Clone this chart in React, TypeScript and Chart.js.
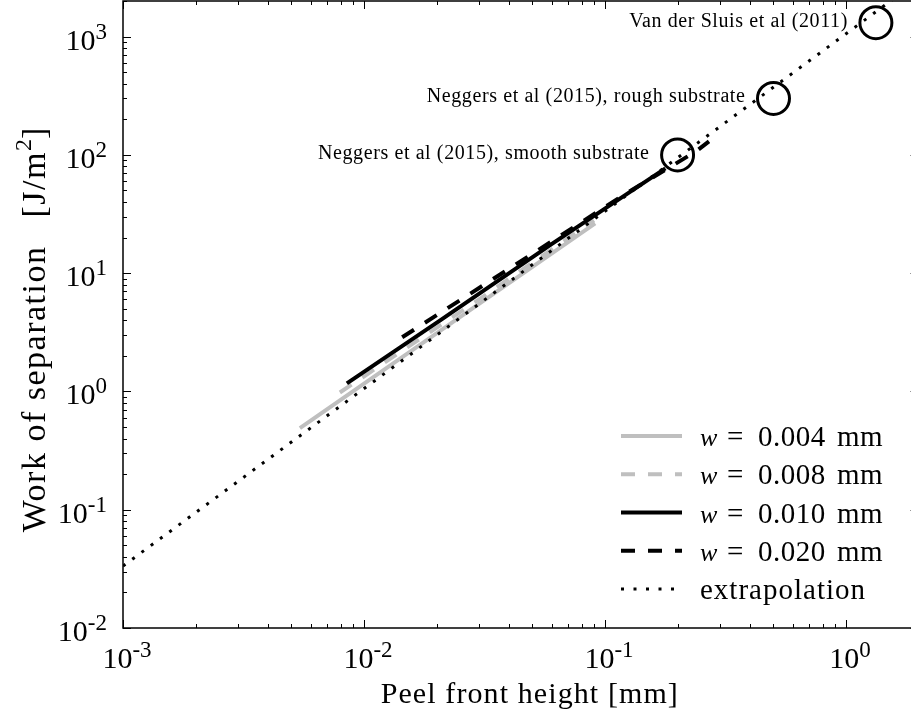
import { useEffect, useRef } from 'react';
import { Chart, registerables } from 'chart.js';

Chart.register(...registerables);

// ---------------- data ----------------
const extrapX = [0.001, 2];
const extrapY = [0.0334, 2990];

const w004X = [0.00542, 0.025, 0.091];
const w004Y = [0.489, 4.25, 26.4];

const w008X = [0.00794, 0.03, 0.09];
const w008Y = [0.98, 6.0, 28];

const w010X = [0.00849, 0.0207, 0.06, 0.178];
const w010Y = [1.17, 3.99, 17.6, 77];

const w020X = [0.0144, 0.04, 0.12, 0.24, 0.27];
const w020Y = [2.87, 10.9, 46, 108, 130];

const circleX = [0.2, 0.5, 1.33];
const circleY = [100, 300, 1310];
const circleLabels = [
  'Neggers et al (2015), smooth substrate',
  'Neggers et al (2015), rough substrate',
  'Van der Sluis et al (2011)',
];

const widthValues = ['0.004', '0.008', '0.010', '0.020'];
const extrapLabel = 'extrapolation';

const xMajorTicks = [0.001, 0.01, 0.1, 1];
const xMajorExp = ['-3', '-2', '-1', '0'];
const yMajorTicks = [0.01, 0.1, 1, 10, 100, 1000];
const yMajorExp = ['-2', '-1', '0', '1', '2', '3'];
const minorMultipliers = [2, 3, 4, 5, 6, 7, 8, 9];
const xDecades = [0.001, 0.01, 0.1, 1];
const yDecades = [0.01, 0.1, 1, 10, 100, 1000];

const xTitle = 'Peel front height [mm]';
const yTitleMain = 'Work of separation';
const yTitleUnit = '[J/m';
const yTitleSup = '2';
const yTitleEnd = ']';

const X_MIN = 0.001;
const X_MAX = 2;
const Y_MIN = 0.01;
const Y_MAX = 2000;

const GRAY = '#bfbfbf';
const BLACK = '#000000';
const FAMILY = '"Liberation Serif", "DejaVu Serif", serif';

const pts = (xs: number[], ys: number[]) => xs.map((x, i) => ({ x, y: ys[i] }));

type Run = { t: string; size: number; italic?: boolean; dy?: number; ls?: number; adv?: number };
function fontOf(r: Run) {
  return `${r.italic ? 'italic ' : ''}${r.size}px ${FAMILY}`;
}
function setRun(ctx: any, r: Run) {
  ctx.font = fontOf(r);
  ctx.letterSpacing = `${r.ls || 0}px`;
}
function drawRuns(ctx: CanvasRenderingContext2D, runs: Run[], x: number, y: number, align: 'left' | 'center' | 'right') {
  const widths = runs.map((r) => {
    setRun(ctx, r);
    return ctx.measureText(r.t).width + (r.adv || 0);
  });
  const total = widths.reduce((a, b) => a + b, 0);
  let cx = align === 'left' ? x : align === 'center' ? x - total / 2 : x - total;
  ctx.textAlign = 'left';
  ctx.textBaseline = 'alphabetic';
  runs.forEach((r, i) => {
    setRun(ctx, r);
    ctx.fillText(r.t, cx, y + (r.dy || 0));
    cx += widths[i];
  });
  (ctx as any).letterSpacing = '0px';
}

const legendStyles = [
  { color: GRAY, dash: [] as number[], width: 4 },
  { color: GRAY, dash: [14, 13], width: 4 },
  { color: BLACK, dash: [] as number[], width: 4 },
  { color: BLACK, dash: [14, 13], width: 4 },
  { color: BLACK, dash: [3, 9.5], width: 3 },
];

const decorPlugin = {
  id: 'decor',
  afterDraw(chart: any) {
    const ctx: CanvasRenderingContext2D = chart.ctx;
    const { left, right, top, bottom } = chart.chartArea;
    const xs = chart.scales.x;
    const ys = chart.scales.y;
    ctx.save();
    ctx.fillStyle = BLACK;
    ctx.strokeStyle = BLACK;

    // ticks (inward, all four sides)
    ctx.lineWidth = 1;
    const MAJ = 8;
    const MIN = 4;
    const tickLine = (x1: number, y1: number, x2: number, y2: number) => {
      ctx.beginPath();
      ctx.moveTo(x1, y1);
      ctx.lineTo(x2, y2);
      ctx.stroke();
    };
    xMajorTicks.forEach((v) => {
      const px = Math.round(xs.getPixelForValue(v)) + 0.5;
      tickLine(px, bottom, px, bottom - MAJ);
      tickLine(px, top, px, top + MAJ);
    });
    xDecades.forEach((d) => {
      minorMultipliers.forEach((m) => {
        const v = d * m;
        if (v > X_MAX) return;
        const px = Math.round(xs.getPixelForValue(v)) + 0.5;
        tickLine(px, bottom, px, bottom - MIN);
        tickLine(px, top, px, top + MIN);
      });
    });
    yMajorTicks.forEach((v) => {
      const py = Math.round(ys.getPixelForValue(v)) + 0.5;
      tickLine(left, py, left + MAJ, py);
      tickLine(right, py, right - MAJ, py);
    });
    yDecades.forEach((d) => {
      minorMultipliers.forEach((m) => {
        const v = d * m;
        if (v > Y_MAX) return;
        const py = Math.round(ys.getPixelForValue(v)) + 0.5;
        tickLine(left, py, left + MIN, py);
        tickLine(right, py, right - MIN, py);
      });
    });

    // frame
    ctx.lineWidth = 1.5;
    ctx.strokeRect(left, top, right - left, bottom - top);

    // tick labels
    const MAIN = 30;
    const SUP = 23;
    yMajorTicks.forEach((v, i) => {
      const py = ys.getPixelForValue(v);
      drawRuns(ctx, [{ t: '10', size: MAIN }, { t: yMajorExp[i], size: SUP, dy: -11 }], left - 16, py + 13, 'right');
    });
    xMajorTicks.forEach((v, i) => {
      const px = xs.getPixelForValue(v);
      drawRuns(ctx, [{ t: '10', size: MAIN }, { t: xMajorExp[i], size: SUP, dy: -11 }], px + 4, bottom + 40, 'center');
    });

    // axis titles
    drawRuns(ctx, [{ t: xTitle, size: 30, ls: 1.1 }], (left + right) / 2 + 9, 703, 'center');
    ctx.save();
    ctx.translate(45, 330);
    ctx.rotate(-Math.PI / 2);
    drawRuns(ctx, [
      { t: yTitleMain, size: 34, ls: 1.5, adv: 28 },
      { t: yTitleUnit, size: 34, ls: 1.5 },
      { t: yTitleSup, size: 24, dy: -14 },
      { t: yTitleEnd, size: 34 },
    ], 0, 0, 'center');
    ctx.restore();

    // annotations next to circles
    circleX.forEach((cxv, i) => {
      const px = xs.getPixelForValue(cxv);
      const py = ys.getPixelForValue(circleY[i]);
      drawRuns(ctx, [{ t: circleLabels[i], size: 20, ls: 0.6 }], px - 28, py + 4, 'right');
    });

    // legend
    const LX1 = 621;
    const LX2 = 682;
    const TX = 700;
    const ROW0 = 436;
    const STEP = 38.25;
    legendStyles.forEach((st, i) => {
      const ry = ROW0 + i * STEP;
      ctx.save();
      ctx.strokeStyle = st.color;
      ctx.lineWidth = st.width;
      ctx.setLineDash(st.dash);
      ctx.lineCap = 'butt';
      ctx.beginPath();
      ctx.moveTo(LX1, ry);
      ctx.lineTo(LX2, ry);
      ctx.stroke();
      ctx.restore();
      ctx.fillStyle = BLACK;
      if (i < widthValues.length) {
        drawRuns(ctx, [{ t: 'w', size: 26, italic: true }], TX, ry + 10, 'left');
        drawRuns(ctx, [{ t: '=', size: 29 }], TX + 27, ry + 10, 'left');
        drawRuns(ctx, [{ t: widthValues[i], size: 29, ls: 0.5 }], TX + 58, ry + 10, 'left');
        drawRuns(ctx, [{ t: 'mm', size: 29, ls: 0.5 }], TX + 137, ry + 10, 'left');
      } else {
        drawRuns(ctx, [{ t: extrapLabel, size: 29, ls: 1 }], TX, ry + 10, 'left');
      }
    });

    ctx.restore();
  },
};

export default function App() {
  const ref = useRef<HTMLCanvasElement | null>(null);

  useEffect(() => {
    document.body.style.margin = '0';
    document.documentElement.style.overflow = 'hidden';
    const canvas = ref.current;
    if (!canvas) return;
    const chart = new Chart(canvas, {
      type: 'line',
      data: {
        datasets: [
          {
            label: 'circles',
            type: 'scatter' as any,
            data: pts(circleX, circleY),
            showLine: false,
            pointRadius: 16,
            pointHoverRadius: 16,
            pointBorderWidth: 3,
            pointBorderColor: BLACK,
            pointBackgroundColor: 'rgba(0,0,0,0)',
            order: 0,
          } as any,
          {
            label: extrapLabel,
            data: pts(extrapX, extrapY),
            borderColor: BLACK,
            borderWidth: 3,
            borderDash: [3, 8.5],
            pointRadius: 0,
            fill: false,
            order: 1,
          },
          {
            label: 'w = 0.020 mm',
            data: pts(w020X, w020Y),
            borderColor: BLACK,
            borderWidth: 4,
            borderDash: [14, 13],
            pointRadius: 0,
            fill: false,
            order: 2,
          },
          {
            label: 'w = 0.010 mm',
            data: pts(w010X, w010Y),
            borderColor: BLACK,
            borderWidth: 4,
            pointRadius: 0,
            fill: false,
            order: 3,
          },
          {
            label: 'w = 0.008 mm',
            data: pts(w008X, w008Y),
            borderColor: GRAY,
            borderWidth: 4,
            borderDash: [14, 13],
            pointRadius: 0,
            fill: false,
            order: 4,
          },
          {
            label: 'w = 0.004 mm',
            data: pts(w004X, w004Y),
            borderColor: GRAY,
            borderWidth: 4,
            pointRadius: 0,
            fill: false,
            order: 5,
          },
        ],
      },
      options: {
        animation: false,
        responsive: false,
        maintainAspectRatio: false,
        devicePixelRatio: 1,
        layout: { autoPadding: false, padding: { left: 123, top: 1, right: 6.4, bottom: 94 } },
        plugins: { legend: { display: false }, tooltip: { enabled: false } },
        events: [],
        elements: { line: { tension: 0 } },
        scales: {
          x: { type: 'logarithmic', min: X_MIN, max: X_MAX, display: false },
          y: { type: 'logarithmic', min: Y_MIN, max: Y_MAX, display: false },
        },
      },
      plugins: [decorPlugin],
    });
    return () => chart.destroy();
  }, []);

  return (
    <div style={{ width: 911, height: 722, overflow: 'hidden', position: 'relative', background: '#fff' }}>
      <canvas ref={ref} width={925} height={722} style={{ display: 'block', width: 925, height: 722 }} />
    </div>
  );
}
